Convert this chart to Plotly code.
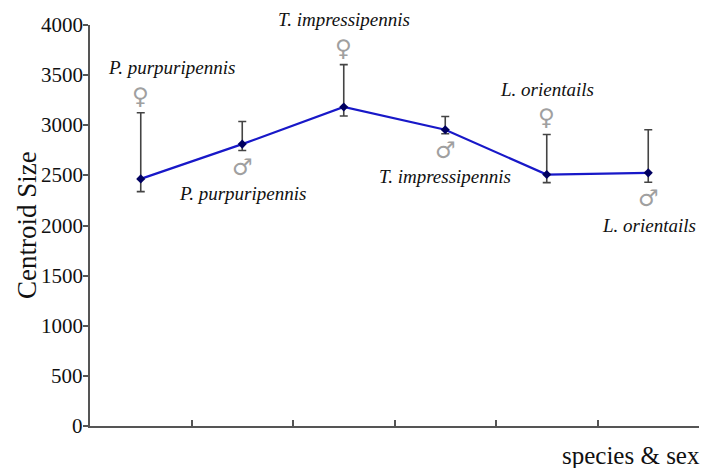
import plotly.graph_objects as go

# Data
positions = [0.5, 1.5, 2.5, 3.5, 4.5, 5.5]
species = ["P. purpuripennis", "P. purpuripennis", "T. impressipennis",
           "T. impressipennis", "L. orientails", "L. orientails"]
sexes = ["♀", "♂", "♀", "♂", "♀", "♂"]
centroid_size = [2465, 2812, 3182, 2955, 2508, 2525]
err_plus = [660, 226, 423, 133, 400, 430]
err_minus = [127, 64, 90, 40, 80, 93]

y_ticks = [0, 500, 1000, 1500, 2000, 2500, 3000, 3500, 4000]
y_tick_labels = ["0", "500", "1000", "1500", "2000", "2500", "3000", "3500", "4000"]
x_ticks = [1, 2, 3, 4, 5, 6]

SERIF = "Liberation Serif"
AXIS_COLOR = "#555555"
TEXT_COLOR = "#111111"
SYM_FONT = dict(family="DejaVu Sans", size=23, color="#a0a0a0")

fig = go.Figure()
fig.add_trace(go.Scatter(
    x=positions, y=centroid_size, mode="lines+markers",
    line=dict(color="#1818c8", width=2.2),
    marker=dict(color="#000060", size=7, symbol="diamond"),
    error_y=dict(type="data", symmetric=False, array=err_plus, arrayminus=err_minus,
                 color="#444444", thickness=1.6, width=4),
    showlegend=False,
))

annotations = []
name_xshift = [31, 0, 0, 0, 0, 1]
for i, (xp, yv, ep, em, sp, sx) in enumerate(zip(positions, centroid_size, err_plus,
                                                  err_minus, species, sexes)):
    if sx == "♀":
        top = yv + ep
        annotations.append(dict(x=xp, y=top, xref="x", yref="y", text=sx, showarrow=False,
                                yshift=17, font=SYM_FONT))
        annotations.append(dict(x=xp, y=top, xref="x", yref="y", text="<i>" + sp + "</i>",
                                showarrow=False, yshift=45, xshift=name_xshift[i],
                                font=dict(family=SERIF, size=19, color=TEXT_COLOR)))
    else:
        bot = yv - em
        annotations.append(dict(x=xp, y=bot, xref="x", yref="y", text=sx, showarrow=False,
                                yshift=-16, font=SYM_FONT))
        annotations.append(dict(x=xp, y=bot, xref="x", yref="y", text="<i>" + sp + "</i>",
                                showarrow=False, yshift=-43, xshift=name_xshift[i],
                                font=dict(family=SERIF, size=19, color=TEXT_COLOR)))

# y tick labels (serif) as annotations anchored on the y axis values
for v, lab in zip(y_ticks, y_tick_labels):
    annotations.append(dict(x=0, y=v, xref="paper", yref="y", text=lab, showarrow=False,
                            xanchor="right", yanchor="middle", xshift=-5,
                            font=dict(family=SERIF, size=21, color=TEXT_COLOR)))

W, H = 704, 468
ML, MR, MT, MB = 90, 5, 25, 42
pw, ph = W - ML - MR, H - MT - MB


def px_to_paper(px, py):
    return (px - ML) / pw, (H - MB - py) / ph


tx, ty = px_to_paper(27, 225)
annotations.append(dict(x=tx, y=ty, xref="paper", yref="paper", text="Centroid Size",
                        showarrow=False, textangle=-90, xanchor="center", yanchor="middle",
                        font=dict(family=SERIF, size=27, color=TEXT_COLOR)))
sx_, sy_ = px_to_paper(702, 455)
annotations.append(dict(x=sx_, y=sy_, xref="paper", yref="paper", text="species & sex",
                        showarrow=False, xanchor="right", yanchor="middle",
                        font=dict(family=SERIF, size=25, color=TEXT_COLOR)))

fig.update_layout(
    width=W, height=H,
    font=dict(family=SERIF, size=20, color=TEXT_COLOR),
    margin=dict(l=ML, r=MR, t=MT, b=MB, autoexpand=False),
    paper_bgcolor="white", plot_bgcolor="white",
    annotations=annotations,
    xaxis=dict(range=[0, 6], tickvals=x_ticks, showticklabels=False, ticks="inside",
               ticklen=6, tickwidth=1.5, tickcolor=AXIS_COLOR, showline=True,
               linecolor=AXIS_COLOR, linewidth=2, showgrid=False, zeroline=False),
    yaxis=dict(range=[0, 4000], tickvals=y_ticks, showticklabels=False,
               ticks="outside", ticklen=5,
               tickwidth=1.5, tickcolor=AXIS_COLOR, showline=True, linecolor=AXIS_COLOR,
               linewidth=2, showgrid=False, zeroline=False),
)

fig.write_html("out.html")
